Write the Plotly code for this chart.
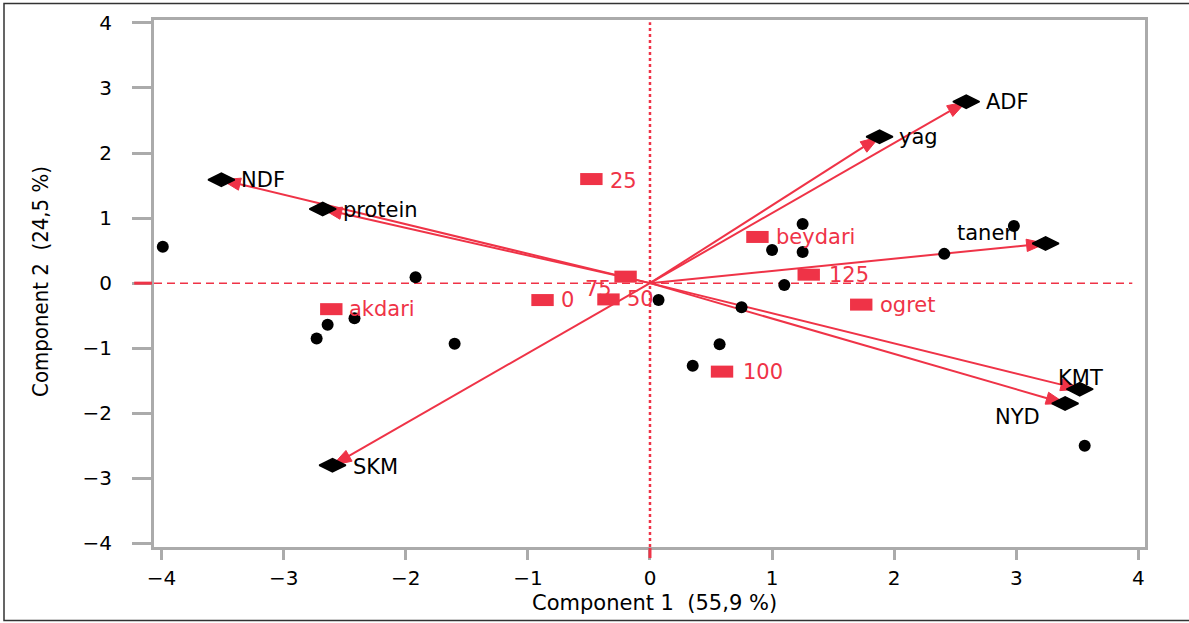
import plotly.graph_objects as go

# ---- data ----
var_names = ["NDF", "protein", "SKM", "yag", "ADF", "tanen", "KMT", "NYD"]
var_x = [-3.51, -2.68, -2.60, 1.88, 2.59, 3.24, 3.52, 3.40]
var_y = [1.59, 1.14, -2.80, 2.25, 2.79, 0.61, -1.63, -1.85]

grp_names = ["25", "beydari", "125", "ogret", "100", "akdari", "0", "50", "75"]
grp_x = [-0.48, 0.88, 1.30, 1.73, 0.59, -2.61, -0.88, -0.34, -0.20]
grp_y = [1.60, 0.71, 0.13, -0.33, -1.36, -0.40, -0.26, -0.25, 0.10]

obs_x = [-3.99, -1.92, -2.42, -2.64, -2.73, -1.60, 0.07, 0.75, 0.57, 0.35,
         1.25, 1.00, 1.25, 1.10, 2.41, 2.98, 3.56]
obs_y = [0.56, 0.09, -0.54, -0.64, -0.85, -0.93, -0.26, -0.37, -0.94, -1.27,
         0.91, 0.51, 0.48, -0.03, 0.45, 0.88, -2.50]

tick_vals = [-4, -3, -2, -1, 0, 1, 2, 3, 4]
x_title = "Component 1\u00a0 (55,9 %)"
y_title = "Component 2\u00a0 (24,5 %)"

# ---- styles ----
RED = "#EF3347"
GRAY = "#ABABAB"
FONT = "DejaVu Sans"

# label offsets (pixels) relative to each marker
var_lab = {
    "NDF": ("left", 18, 0), "protein": ("left", 18, -1), "SKM": ("left", 18, -2),
    "yag": ("left", 17, 0), "ADF": ("left", 18, 0), "tanen": ("center", -58, 10),
    "KMT": ("center", 1, 11), "NYD": ("center", -48, -14),
}
grp_lab = {
    "25": ("left", 17, -2), "beydari": ("left", 17, 0), "125": ("left", 18, 0),
    "ogret": ("left", 17, 0), "100": ("left", 19, 0), "akdari": ("left", 16, 0),
    "0": ("left", 16, 0), "50": ("left", 17, 0), "75": ("right", -12, -12),
}

fig = go.Figure()

# arrows from origin to loadings
ax, ay, asz = [], [], []
for vx, vy in zip(var_x, var_y):
    ax += [0, vx, None]
    ay += [0, vy, None]
    asz += [0, 20, 0]
fig.add_trace(go.Scatter(
    x=ax, y=ay, mode="lines+markers",
    line=dict(color=RED, width=2),
    marker=dict(symbol="arrow", size=asz, color=RED, opacity=1,
                line=dict(color=RED, width=1), angleref="previous"),
    hoverinfo="skip", showlegend=False))

# observations
fig.add_trace(go.Scatter(
    x=obs_x, y=obs_y, mode="markers",
    marker=dict(symbol="circle", size=12, color="black"),
    showlegend=False))

# loadings diamonds
fig.add_trace(go.Scatter(
    x=var_x, y=var_y, mode="markers",
    marker=dict(symbol="diamond-wide", size=19, color="black",
                line=dict(color="black", width=1.5)),
    showlegend=False))

# group squares (rectangles)
fig.add_trace(go.Scatter(
    x=grp_x, y=grp_y, mode="markers",
    marker=dict(symbol="line-ew", size=16, color=RED,
                line=dict(color=RED, width=12)),
    showlegend=False))

annotations = []
for n, vx, vy in zip(var_names, var_x, var_y):
    anc, dx, dy = var_lab[n]
    annotations.append(dict(x=vx, y=vy, text=n, showarrow=False, xanchor=anc,
                            yanchor="middle", xshift=dx, yshift=dy,
                            font=dict(family=FONT, size=21, color="black")))
for n, gx, gy in zip(grp_names, grp_x, grp_y):
    anc, dx, dy = grp_lab[n]
    annotations.append(dict(x=gx, y=gy, text=n, showarrow=False, xanchor=anc,
                            yanchor="middle", xshift=dx, yshift=dy,
                            font=dict(family=FONT, size=21, color=RED)))

# axis titles
annotations.append(dict(x=0.5055, y=-0.1063, xref="paper", yref="paper", text=x_title,
                        showarrow=False, xanchor="center", yanchor="middle",
                        font=dict(family=FONT, size=21, color="black")))
annotations.append(dict(x=-0.114, y=0.503, xref="paper", yref="paper", text=y_title,
                        showarrow=False, textangle=-90, xanchor="center", yanchor="middle",
                        font=dict(family="Liberation Sans Narrow, DejaVu Sans Condensed, sans-serif",
                                  size=22, color="black")))

XR = [-4.062, 4.054]
YR = [-4.056, 4.045]

shapes = [
    # reference lines through origin
    dict(type="line", xref="x", yref="y", x0=XR[0], x1=3.95, y0=0, y1=0,
         line=dict(color=RED, width=1.5, dash="8px,5px"), layer="below"),
    dict(type="line", xref="x", yref="y", x0=0, x1=0, y0=YR[0], y1=4.01,
         line=dict(color=RED, width=2.5, dash="dot"), layer="below"),
    # red zero ticks
    dict(type="line", xref="x", yref="paper", x0=0, x1=0, y0=-0.002, y1=-0.021,
         line=dict(color=RED, width=3)),
    dict(type="line", xref="paper", yref="y", x0=-0.002, x1=-0.02, y0=0, y1=0,
         line=dict(color=RED, width=3)),
    # outer frame
    dict(type="rect", xref="paper", yref="paper",
         x0=(4 - 154) / 991, x1=(1200 - 154) / 991,
         y0=(547 - 620.5) / 527, y1=(547 - 3.5) / 527,
         line=dict(color="#333333", width=1.5)),
]

axis_common = dict(
    showgrid=False, zeroline=False, showline=True, linecolor=GRAY, linewidth=3,
    mirror=True, ticks="outside", tickcolor=GRAY, tickwidth=2.5,
    tickvals=tick_vals, tickfont=dict(family=FONT, size=20, color="black"),
    automargin=False,
)

fig.update_layout(
    width=1189, height=623,
    margin=dict(l=154, r=44, t=20, b=76),
    paper_bgcolor="white", plot_bgcolor="white",
    xaxis=dict(range=XR, ticklen=10, ticklabelstandoff=1, **axis_common),
    yaxis=dict(range=YR, ticklen=19, ticklabelstandoff=16, **axis_common),
    annotations=annotations, shapes=shapes, showlegend=False,
)

fig.write_html("out.html")
